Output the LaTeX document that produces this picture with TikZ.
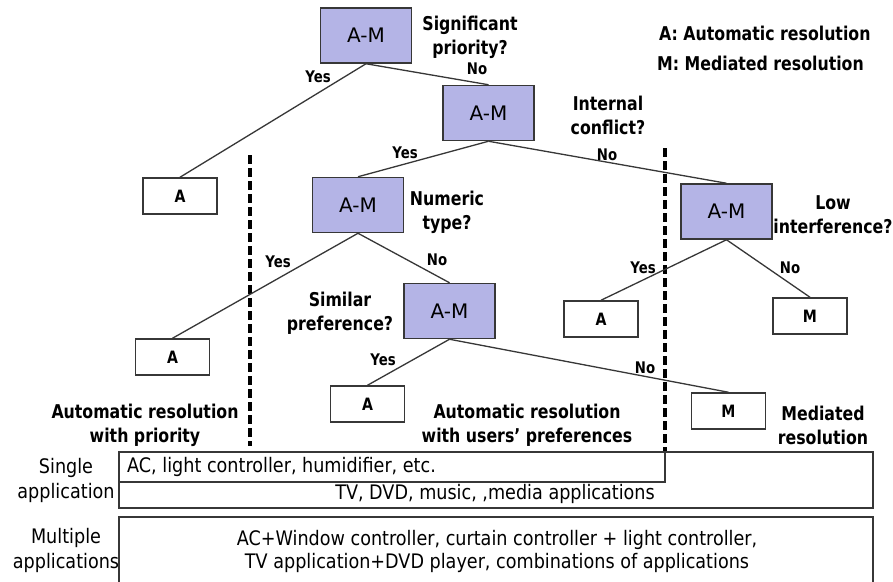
\documentclass[tikz,border=0pt]{standalone}
\usepackage{fontspec}
\setmainfont{DejaVu Sans}
\newfontfamily\lblfont[FakeStretch=0.83]{DejaVu Sans}
\newfontfamily\txtfont[FakeStretch=0.88]{DejaVu Sans}
\definecolor{amfill}{RGB}{180,180,230}
\definecolor{edgecol}{RGB}{55,55,55}
\tikzset{
  am/.style={draw=edgecol, line width=1.5pt, fill=amfill, minimum width=91pt, minimum height=55pt, inner sep=0pt, font=\fontsize{20}{24}\selectfont},
  leaf/.style={draw=edgecol, line width=1.5pt, fill=white, minimum width=74pt, minimum height=36pt, inner sep=0pt, font=\lblfont\bfseries\fontsize{17}{20}\selectfont},
  quest/.style={align=center, inner sep=0pt, font=\lblfont\bfseries\fontsize{19}{24}\selectfont},
  yn/.style={inner sep=0pt, font=\lblfont\bfseries\fontsize{16}{19}\selectfont},
  conn/.style={draw=edgecol, line width=1.3pt},
  sepline/.style={draw=black, line width=3.2pt, dash pattern=on 9pt off 4pt},
  panel/.style={draw=edgecol, line width=1.5pt, inner sep=0pt},
  body/.style={inner sep=0pt, font=\txtfont\fontsize{20}{24}\selectfont},
  rowlbl/.style={align=center, inner sep=0pt, font=\txtfont\fontsize{20}{25}\selectfont},
}
\begin{document}
\begin{tikzpicture}[x=1pt,y=-1pt]
\clip (0,0) rectangle (893,581);
\fill[white] (0,0) rectangle (893,581);

% dashed separators
\coordinate (d1t) at (250,155);
\coordinate (d1b) at (250,446);
\coordinate (d2t) at (665,148);
\coordinate (d2b) at (665,452);
\draw[sepline] (d1t) -- (d1b);
\draw[sepline] (d2t) -- (d2b);

% decision boxes
\node[am] (am1) at (366,35.5) {A-M};
\node[am] (am2) at (488.5,113) {A-M};
\node[am] (am3) at (358,205) {A-M};
\node[am] (am4) at (449.5,311) {A-M};
\node[am] (am5) at (726.5,211.5) {A-M};

% leaves
\node[leaf] (a1) at (180,196) {A};
\node[leaf] (a2) at (172.5,357) {A};
\node[leaf] (a3) at (367.5,404) {A};
\node[leaf] (a4) at (601,319) {A};
\node[leaf] (m1) at (810,316) {M};
\node[leaf] (m2) at (728.5,411) {M};

% connectors
\draw[conn] (am1.south) -- (a1.north);
\draw[conn] (am1.south) -- (am2.north);
\draw[conn] (am2.south) -- (am3.north);
\draw[conn] (am2.south) -- (am5.north);
\draw[conn] (am3.south) -- (a2.north);
\draw[conn] (am3.south) -- (am4.north);
\draw[conn] (am4.south) -- (a3.north);
\draw[conn] (am4.south) -- (m2.north);
\draw[conn] (am5.south) -- (a4.north);
\draw[conn] (am5.south) -- (m1.north);

% yes / no labels
\node[yn] (y1) at (318,77) {Yes};
\node[yn] (n1) at (477,69) {No};
\node[yn] (y2) at (405,153) {Yes};
\node[yn] (n2) at (607,155) {No};
\node[yn] (y3) at (278,262) {Yes};
\node[yn] (n3) at (437,260) {No};
\node[yn] (y4) at (383,360) {Yes};
\node[yn] (n4) at (645,368) {No};
\node[yn] (y5) at (643,268) {Yes};
\node[yn] (n5) at (790,268) {No};

% questions
\node[quest] (q1) at (470,37) {Significant\\priority?};
\node[quest] (q2) at (608,115) {Internal\\conflict?};
\node[quest] (q3) at (447,212) {Numeric\\type?};
\node[quest] (q4) at (340,313) {Similar\\preference?};
\node[quest] (q5) at (833,215) {Low\\interference?};

% legend
\node[quest, anchor=west] (lg1) at (659,33) {A: Automatic resolution};
\node[quest, anchor=west] (lg2) at (657,63) {M: Mediated resolution};

% category labels
\node[quest] (c1) at (145,425) {Automatic resolution\\with priority};
\node[quest] (c2) at (527,425) {Automatic resolution\\with users’ preferences};
\node[quest] (c3) at (823,425) {Mediated\\resolution};

% bottom panels
\node[panel, minimum width=754pt, minimum height=56pt] (single) at (496,480) {};
\coordinate (sa) at (119,482);
\coordinate (sb) at (665,482);
\draw[draw=edgecol, line width=1.5pt] (sa) -- (sb) -- (d2b);
\node[panel, minimum width=754pt, minimum height=100pt] (multi) at (496,567) {};

\node[body, anchor=west] (t1) at (127,467) {AC, light controller, humidifier, etc.};
\node[body] (t2) at (495,494) {TV, DVD, music, ,media applications};
\node[body] (t3) at (497,540) {AC+Window controller, curtain controller + light controller,};
\node[body] (t4) at (497,563) {TV application+DVD player, combinations of applications};

\node[rowlbl] (r1) at (66,480) {Single\\application};
\node[rowlbl] (r2) at (66,550) {Multiple\\applications};
\end{tikzpicture}
\end{document}
